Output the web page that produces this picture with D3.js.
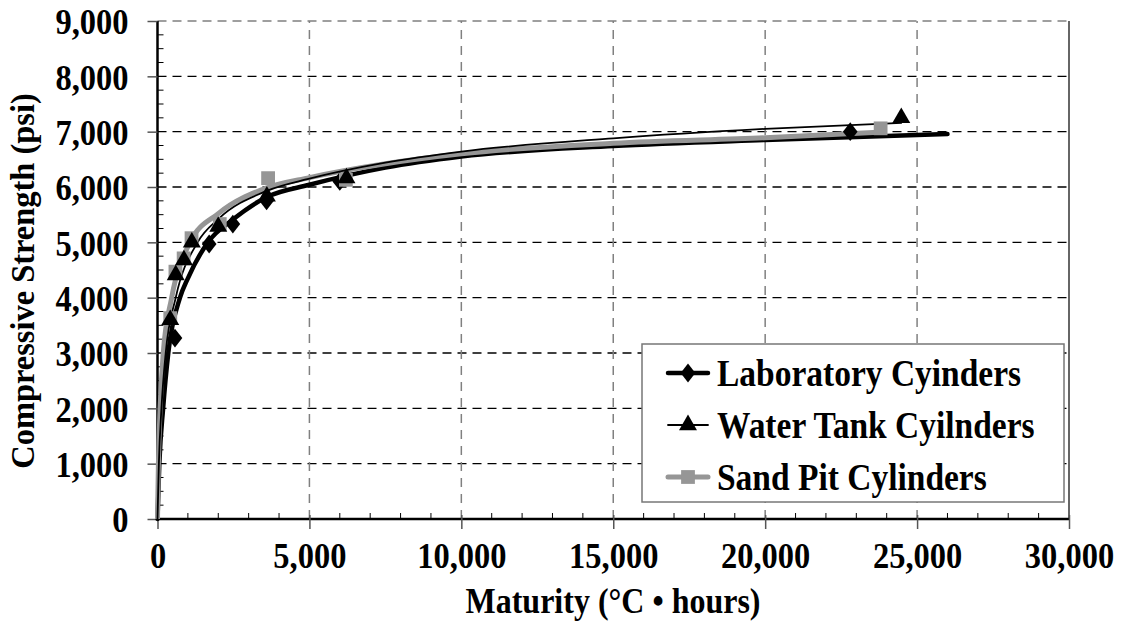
<!DOCTYPE html>
<html><head><meta charset="utf-8">
<script src="https://cdn.jsdelivr.net/npm/d3@7"></script>
<style>body{margin:0;background:#fff}svg{display:block}text{font-family:"Liberation Serif","Times New Roman",serif;font-weight:bold;fill:#000}</style>
</head><body>
<svg id="c" width="1124" height="644"></svg>
<script>
// ---- data ----
const xTicks = [0, 5000, 10000, 15000, 20000, 25000, 30000];
const yTicks = [0, 1000, 2000, 3000, 4000, 5000, 6000, 7000, 8000, 9000];
const seriesNames = ["Laboratory Cyinders", "Water Tank Cyilnders", "Sand Pit Cylinders"];

const labX = [575, 1700, 2480, 3590, 6000, 22800];
const labY = [3270, 4970, 5330, 5750, 6100, 7000];
const waterX = [420, 600, 870, 1130, 2000, 3600, 6220, 24480];
const waterY = [3600, 4410, 4680, 5000, 5285, 5830, 6160, 7250];
const sandX = [420, 590, 860, 1120, 2050, 3640, 6200, 23800];
const sandY = [3630, 4470, 4710, 5075, 5330, 6160, 6130, 7060];

// trend lines
const labFitX = [0, 60, 185, 355, 740, 1000, 1660, 2500, 3600, 5000, 7500, 10000, 15000, 20000, 26000];
const labFitY = [0, 1000, 2000, 3000, 4000, 4350, 5000, 5420, 5820, 6040, 6350, 6550, 6740, 6850, 6956];
const waterFitX = [0, 45, 130, 270, 600, 1320, 2000, 3600, 5000, 7500, 10000, 15000, 20000, 24500];
const waterFitY = [0, 1000, 2000, 3000, 4000, 5000, 5420, 5930, 6150, 6440, 6640, 6880, 7050, 7160];
const sandFitX = [0, 30, 85, 190, 467, 1070, 2000, 3600, 5000, 7500, 10000, 15000, 20000, 23800];
const sandFitY = [0, 1000, 2000, 3000, 4000, 5000, 5520, 5985, 6170, 6420, 6600, 6790, 6890, 6990];

// ---- layout ----
const svg = d3.select("#c");
const x = d3.scaleLinear().domain([0, 30000]).range([157.5, 1069]);
const y = d3.scaleLinear().domain([0, 9000]).range([519, 21]);
const GRAY = "#969696";
const fmt = d3.format(",");
const SY = 1.12;

// grid
const g = svg.append("g");
yTicks.forEach(t => {
  if (t === 0) return;
  g.append("line").attr("x1", x(0)).attr("x2", x(30000)).attr("y1", y(t)).attr("y2", y(t))
    .attr("stroke", t === 9000 ? "#808080" : "#000").attr("stroke-width", 1.3).attr("stroke-dasharray", "9,6");
});
xTicks.forEach(t => {
  if (t === 0) return;
  g.append("line").attr("x1", x(t)).attr("x2", x(t)).attr("y1", y(0)).attr("y2", y(9000))
    .attr("stroke", t === 30000 ? "#333" : "#808080").attr("stroke-width", 1.5)
    .attr("stroke-dasharray", t === 30000 ? null : "9,7");
});

// minor ticks
const minorX = d3.range(1000, 30000, 1000).filter(v => v % 5000 !== 0);
minorX.forEach(t => g.append("line").attr("x1", x(t)).attr("x2", x(t)).attr("y1", y(0)).attr("y2", y(0) - 6).attr("stroke", "#000").attr("stroke-width", 1));
const minorY = d3.range(250, 9000, 250).filter(v => v % 1000 !== 0);
minorY.forEach(t => g.append("line").attr("x1", x(0)).attr("x2", x(0) + 6).attr("y1", y(t)).attr("y2", y(t)).attr("stroke", "#000").attr("stroke-width", 1));

// axes
const xAxis = d3.axisBottom(x).tickValues(xTicks).tickSize(10).tickFormat(fmt);
const yAxis = d3.axisLeft(y).tickValues(yTicks).tickSize(10).tickFormat(fmt);
const gx = svg.append("g").attr("transform", `translate(0,${y(0)})`).call(xAxis);
const gy = svg.append("g").attr("transform", `translate(${x(0)},0)`).call(yAxis);
[gx, gy].forEach(a => {
  a.attr("font-family", null).attr("font-size", null);
  a.select(".domain").attr("stroke", "#000").attr("stroke-width", 2.5);
  a.selectAll(".tick line").attr("stroke", "#555").attr("stroke-width", 1.5);
  a.selectAll("text").attr("font-size", 32.5).attr("fill", "#000");
});
gx.select(".domain").attr("d", `M${x(0)},0H${x(30000)}`);
gy.select(".domain").attr("d", `M0,${y(0)}V${y(9000)}`);
gx.selectAll(".tick line").attr("y1", -4);
gx.selectAll(".tick text").attr("y", 0).attr("dy", "0.35em").attr("transform", `translate(0,36) scale(1,${SY})`);
gy.selectAll(".tick text").attr("x", 0).attr("dy", "0.35em").attr("text-anchor", "end").attr("transform", `translate(-29,0) scale(1,${SY})`);

// titles
svg.append("text").attr("transform", `translate(613,600) scale(1,${SY})`).attr("dy", "0.35em").attr("text-anchor", "middle").attr("font-size", 32).text("Maturity (°C • hours)");
svg.append("text").attr("transform", "translate(22,281) rotate(-90) scale(1.03,1.08)").attr("dy", "0.35em").attr("text-anchor", "middle").attr("font-size", 31.5).text("Compressive Strength (psi)");

// lines
const line = d3.line().x(d => x(d[0])).y(d => y(d[1])).curve(d3.curveMonotoneX);
const zip = (a, b) => a.map((v, i) => [v, b[i]]);
svg.append("path").datum(zip(labFitX, labFitY)).attr("d", line).attr("fill", "none").attr("stroke", "#000").attr("stroke-width", 4.5).attr("stroke-linecap", "round");
svg.append("path").datum(zip(sandFitX, sandFitY)).attr("d", line).attr("fill", "none").attr("stroke", GRAY).attr("stroke-width", 5);
svg.append("path").datum(zip(waterFitX, waterFitY)).attr("d", line).attr("fill", "none").attr("stroke", "#000").attr("stroke-width", 1.8);

// markers
const diamond = d3.symbol().type(d3.symbolDiamond2).size(170);
const tri = d3.symbol().type(d3.symbolTriangle).size(140);
const sq = d3.symbol().type(d3.symbolSquare).size(190);
svg.append("g").selectAll("path").data(zip(labX, labY)).join("path")
  .attr("transform", d => `translate(${x(d[0])},${y(d[1])}) scale(0.9,1.15)`).attr("d", diamond).attr("fill", "#000");
svg.append("g").selectAll("path").data(zip(sandX, sandY)).join("path")
  .attr("transform", d => `translate(${x(d[0])},${y(d[1])})`).attr("d", sq).attr("fill", GRAY);
svg.append("g").selectAll("path").data(zip(waterX, waterY)).join("path")
  .attr("transform", d => `translate(${x(d[0])},${y(d[1])})`).attr("d", tri).attr("fill", "#000");

// legend
const lg = svg.append("g");
lg.append("rect").attr("x", 642).attr("y", 344).attr("width", 422).attr("height", 158).attr("fill", "#fff").attr("stroke", "#777").attr("stroke-width", 1.5);
const rows = [373, 425, 477];
const legStyles = [
  {stroke: "#000", w: 4.5, sym: diamond, fill: "#000", tf: " scale(0.9,1.15)"},
  {stroke: "#000", w: 1.8, sym: tri, fill: "#000", tf: ""},
  {stroke: GRAY, w: 5, sym: sq, fill: GRAY, tf: ""}
];
seriesNames.forEach((name, i) => {
  const st = legStyles[i], ry = rows[i];
  lg.append("line").attr("x1", 668).attr("x2", 708).attr("y1", ry).attr("y2", ry).attr("stroke", st.stroke).attr("stroke-width", st.w).attr("stroke-linecap", "round");
  lg.append("path").attr("transform", `translate(688,${ry})` + st.tf).attr("d", st.sym).attr("fill", st.fill);
  lg.append("text").attr("transform", `translate(717,${ry}) scale(1,${SY})`).attr("dy", "0.35em").attr("font-size", 33.5).text(name);
});
</script>
</body></html>
